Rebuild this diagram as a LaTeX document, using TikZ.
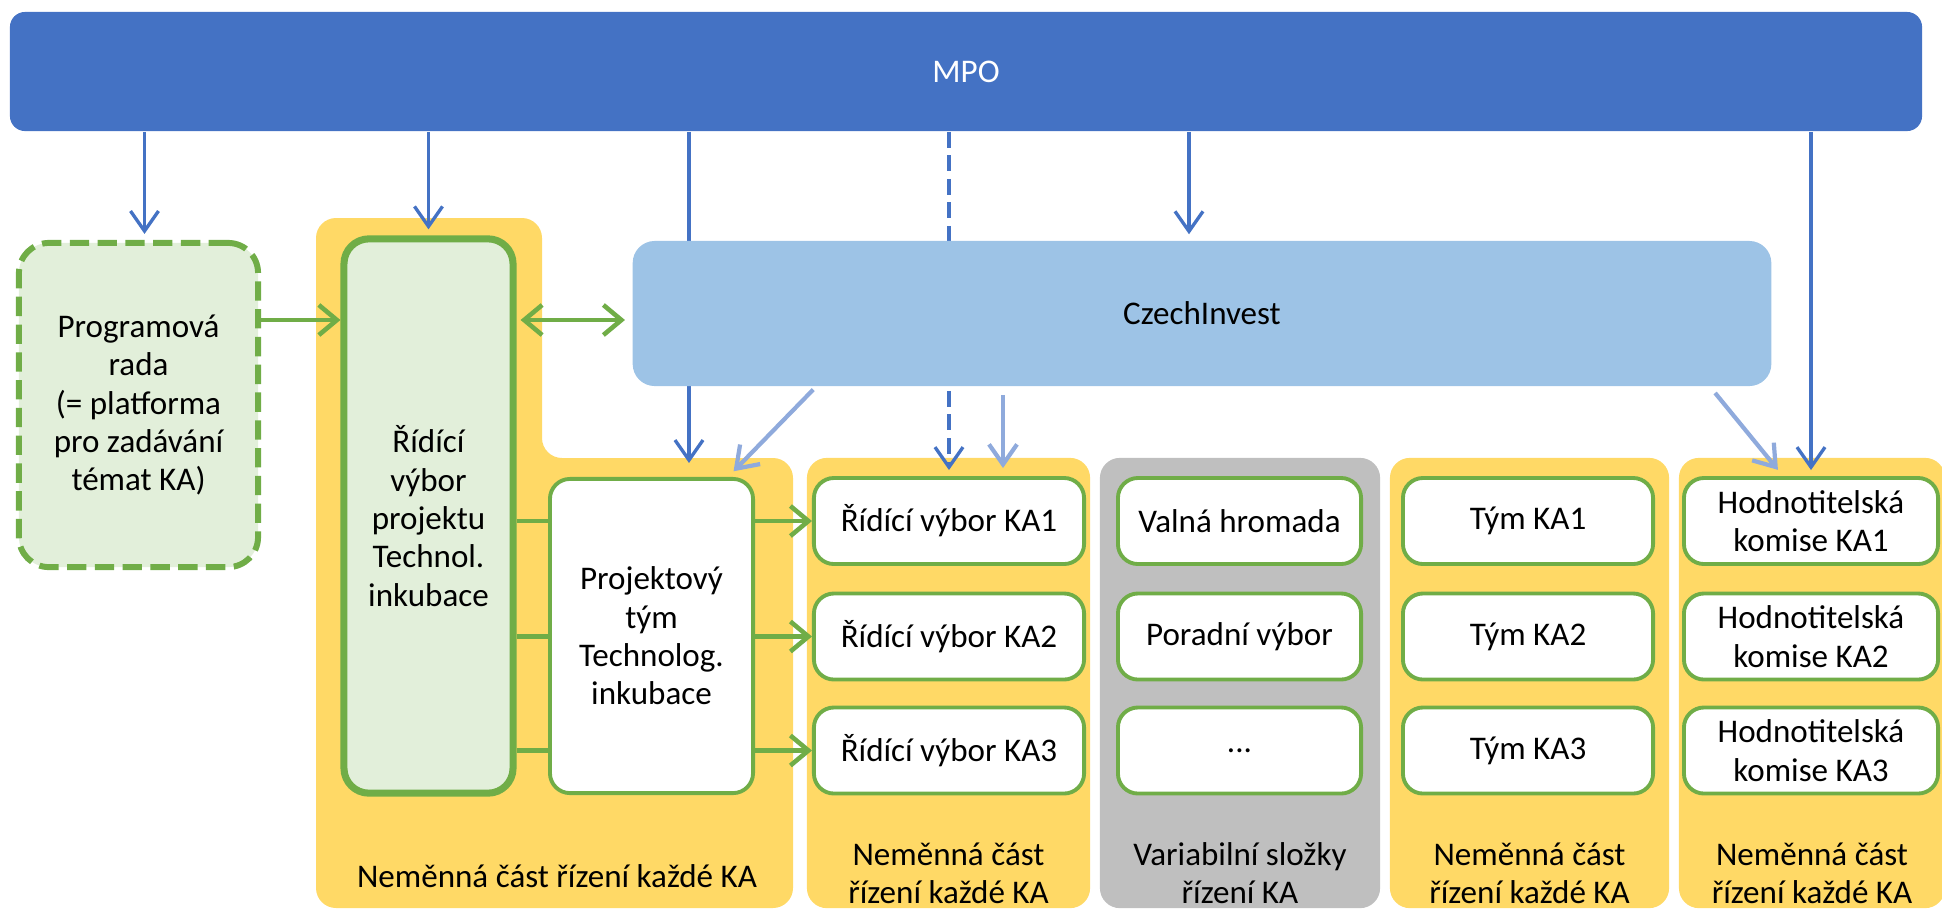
\documentclass[tikz,border=0pt]{standalone}
\usepackage{fontspec}
\setmainfont{Carlito}
\usepackage{tikz}
\usetikzlibrary{arrows.meta,calc,positioning}
\definecolor{mpoblue}{HTML}{4472C4}
\definecolor{ciblue}{HTML}{9DC3E6}
\definecolor{cilink}{HTML}{8FAADC}
\definecolor{panelyellow}{HTML}{FFD966}
\definecolor{panelgrey}{HTML}{BFBFBF}
\definecolor{kagreen}{HTML}{70AD47}
\definecolor{boardfill}{HTML}{E2EFDA}
\pgfdeclarelayer{panels}
\pgfdeclarelayer{links}
\pgfsetlayers{panels,links,main}
\tikzset{%
	mpo/.style      = {fill=mpoblue, rounded corners=0.15cm, text=white, minimum width=19.11cm, minimum height=1.19cm},
	agency/.style   = {fill=ciblue, rounded corners=0.22cm, minimum width=11.38cm, minimum height=1.45cm},
	forum/.style    = {draw=kagreen, fill=boardfill, line width=1.7pt, dash pattern=on 5.5pt off 2.4pt, rounded corners=0.3cm, align=center},
	board/.style    = {draw=kagreen, fill=boardfill, line width=2pt, rounded corners=0.25cm, align=center},
	item/.style     = {draw=kagreen, fill=white, line width=1.1pt, rounded corners=0.2cm, minimum height=0.86cm, align=center, inner sep=1pt},
	panel/.style    = {fill=panelyellow, rounded corners=0.2cm, minimum height=4.5cm},
	label/.style    = {align=center}, % panel caption
	mpoarrow/.style = {draw=mpoblue, line width=0.95pt, -{Straight Barb[length=0.2cm,width=0.28cm]}, shorten >=0.06cm},
	cilinkarrow/.style = {draw=cilink, line width=1.2pt, -{Straight Barb[length=0.2cm,width=0.28cm]}, shorten >=0.08cm},
	grarrow/.style  = {draw=kagreen, line width=1.3pt, -{Straight Barb[length=0.18cm,width=0.3cm]}},
}

\begin{document}
\begin{tikzpicture}[x=0.01cm, y=-0.01cm, font=\fontsize{9.4}{10.9}\selectfont]
	\useasboundingbox (0,0) rectangle (1942,911);
	% top level
	\node[mpo] (mpo) at (966,71.5) {MPO};
	\node[agency] (ci) at (1202,313.5) {CzechInvest};
	\node[forum, minimum width=2.39cm, minimum height=3.24cm] (pr) at (138.5,405) {Programová\\rada\\(= platforma\\pro zadávání\\témat KA)};
	\node[board, minimum width=1.69cm, minimum height=5.54cm] (rv) at (428.5,516) {Řídící\\výbor\\projektu\\Technol.\\inkubace};
	\node[item, minimum width=2.03cm, minimum height=3.14cm] (pt) at (651.5,636) {Projektový\\tým\\Technolog.\\inkubace};
	% columns of KA boxes
	\foreach \i/\y in {1/521, 2/636.5, 3/750.5} {
		\node[item, minimum width=2.70cm] (rk\i) at (949,\y) {Řídící výbor KA\i};
		\node[item, minimum width=2.50cm] (tk\i) at (1528,\y) {Tým KA\i};
		\node[item, minimum width=2.54cm] (hk\i) at (1811,\y) {Hodnotitelská\\komise KA\i};
	}
	\node[item, minimum width=2.43cm] (vs1) at (1239.5,521) {Valná hromada};
	\node[item, minimum width=2.43cm] (vs2) at (1239.5,636.5) {Poradní výbor};
	\node[item, minimum width=2.43cm] (vs3) at (1239.5,750.5) {...};
	% panels
	\begin{pgfonlayer}{panels}
		\fill[panelyellow, rounded corners=0.2cm] (316,218) -- (542,218) -- (542,458) -- (793,458) -- (793,908) -- (316,908) -- cycle;
		\node[panel, minimum width=2.83cm] (p2) at (948.5,683) {};
		\node[panel, minimum width=2.80cm, fill=panelgrey] (p3) at (1240,683) {};
		\node[panel, minimum width=2.79cm] (p4) at (1529.5,683) {};
		\node[panel, minimum width=2.66cm] (p5) at (1812,683) {};
	\end{pgfonlayer}
	\node[label] (l1) at (557,876) {Neměnná část řízení každé KA};
	\node[label] (l2) at (948.5,873) {Neměnná část\\řízení každé KA};
	\node[label] (l3) at (1240,873) {Variabilní složky\\řízení KA};
	\node[label] (l4) at (1529.5,873) {Neměnná část\\řízení každé KA};
	\node[label] (l5) at (1812,873) {Neměnná část\\řízení každé KA};
	% connectors
	\coordinate (lnk) at (0,320);
	\coordinate (prin) at ($(pr.north)+(6,0)$);
	\coordinate (ciin) at ($(ci.north)+(-13,0)$);
	\coordinate (ptin) at ($(pt.north)+(37.5,-8)$);
	\coordinate (rkin) at ($(rk1.north)+(54,0)$);
	\begin{pgfonlayer}{links}
		\draw[mpoarrow] (mpo.south -| prin) -- (prin);
		\draw[mpoarrow] (mpo.south -| rv.north) -- (rv.north);
		\draw[mpoarrow] (mpo.south -| ptin) -- (ptin);
		\draw[mpoarrow, dash pattern=on 4.5pt off 2.2pt] (mpo.south -| rk1.north) -- (rk1.north);
		\draw[mpoarrow] (mpo.south -| ciin) -- (ciin);
		\draw[mpoarrow] (mpo.south -| hk1.north) -- (hk1.north);
		\draw[cilinkarrow, shorten <=0.04cm] ($(ci.south west)+(184,0)$) -- ($(pt.north east)+(-27,0)$);
		\draw[cilinkarrow, shorten <=0.08cm] (ci.south -| rkin) -- (rkin);
		\draw[cilinkarrow, shorten <=0.08cm] ($(ci.south east)+(-62,0)$) -- ($(hk1.north)+(-28,0)$);
		\draw[grarrow] (pr.east |- lnk) -- (rv.west |- lnk);
		\draw[grarrow, {Straight Barb[length=0.18cm,width=0.3cm]}-{Straight Barb[length=0.18cm,width=0.3cm]}, shorten <=0.04cm, shorten >=0.07cm] (rv.east |- lnk) -- (ci.west |- lnk);
		\foreach \i in {1,2,3}
			\draw[grarrow] (rv.east |- rk\i) -- (rk\i.west);
	\end{pgfonlayer}
\end{tikzpicture}
\end{document}
